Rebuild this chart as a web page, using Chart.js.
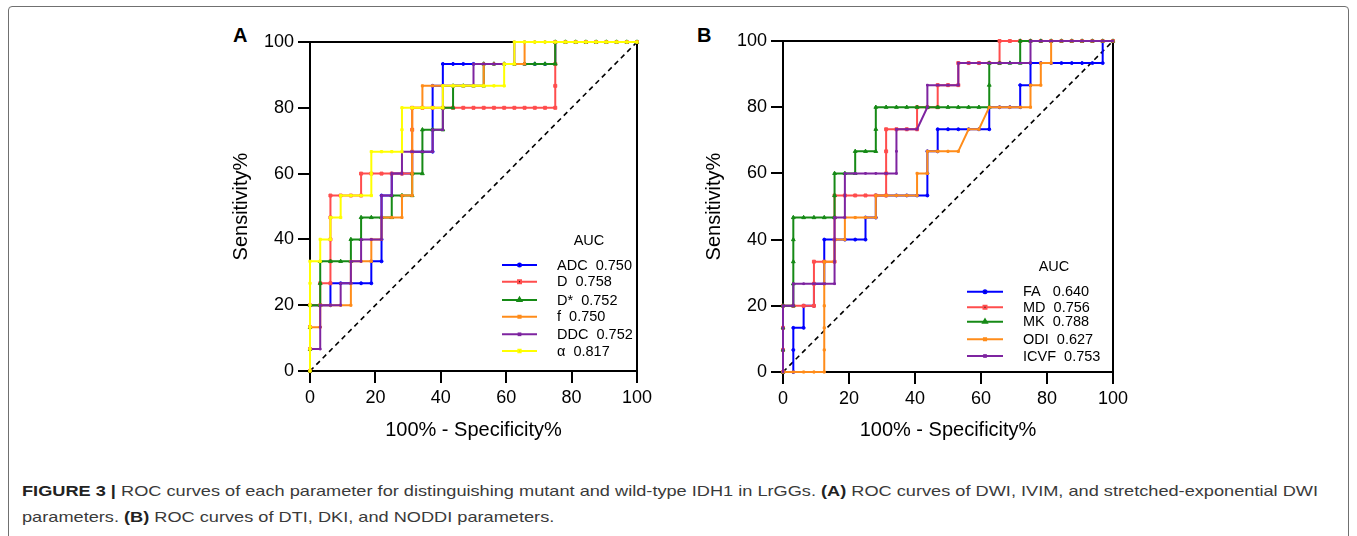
<!DOCTYPE html>
<html>
<head>
<meta charset="utf-8">
<script src="https://cdn.jsdelivr.net/npm/chart.js@4.4.1/dist/chart.umd.min.js"></script>
<style>
  html, body { margin: 0; padding: 0; background: #fff; }
  body { width: 1357px; height: 536px; position: relative; overflow: hidden; font-family: "Liberation Sans", Arial, sans-serif; }
  .frame { position: absolute; left: 8px; top: 6px; width: 1341px; height: 545px; border: 1px solid #707070; border-radius: 4px; box-sizing: border-box; }
  canvas { position: absolute; top: 0; }
  #chartA { left: 200px; }
  #chartB { left: 673px; }
  .panel { position: absolute; top: 24px; font-weight: bold; font-size: 20px; color: #000; }
  .caption { position: absolute; left: 22px; font-family: "Liberation Sans Narrow", "Arial Narrow", "Liberation Sans", sans-serif;
             font-size: 15px; line-height: 17px; color: #3a3a3a; white-space: nowrap; transform-origin: 0 0; }
  .caption b { color: #222; }
</style>
</head>
<body>
<div class="frame"></div>
<div class="panel" style="left:233px">A</div>
<div class="panel" style="left:697px">B</div>
<canvas id="chartA" width="460" height="460"></canvas>
<canvas id="chartB" width="460" height="460"></canvas>
<div class="caption" id="cap1" style="top:482px"><b>FIGURE 3 |</b> ROC curves of each parameter for distinguishing mutant and wild-type IDH1 in LrGGs. <b>(A)</b> ROC curves of DWI, IVIM, and stretched-exponential DWI</div>
<div class="caption" id="cap2" style="top:508px">parameters. <b>(B)</b> ROC curves of DTI, DKI, and NODDI parameters.</div>

<script>
// ROC points as [false positives, true positives] counts (32 wild-type, 15 mutant)
const nNeg = 32;
const nPos = 15;
const tickVals = [0, 20, 40, 60, 80, 100];

// ---- panel A : DWI / IVIM / stretched-exponential ----
const namesA = ["ADC", "D", "D*", "f", "DDC", "α"];
const aucA   = ["0.750", "0.758", "0.752", "0.750", "0.752", "0.817"];
const gapsA  = ["  ", "  ", "  ", "  ", "  ", "  "];

const adcPts = [[0,0],[0,1],[0,2],[0,3],[1,3],[2,3],[2,4],[3,4],[4,4],[5,4],[6,4],[6,5],[7,5],[7,6],[7,7],[7,8],
  [8,8],[8,9],[9,9],[10,9],[10,10],[11,10],[12,10],[12,11],[12,12],[12,13],[13,13],[13,14],[14,14],[15,14],[16,14],
  [17,14],[18,14],[19,14],[20,14],[21,14],[22,14],[23,14],[24,14],[24,15],[25,15],[26,15],[27,15],[28,15],[29,15],
  [30,15],[31,15],[32,15]];
const dPts = [[0,0],[0,1],[0,2],[0,3],[1,3],[1,4],[2,4],[2,5],[2,6],[2,7],[2,8],[3,8],[4,8],[5,8],[5,9],[6,9],[7,9],
  [8,9],[9,9],[10,9],[10,10],[10,11],[10,12],[11,12],[12,12],[13,12],[14,12],[15,12],[16,12],[17,12],[18,12],[19,12],
  [20,12],[21,12],[22,12],[23,12],[24,12],[24,13],[24,14],[24,15],[25,15],[26,15],[27,15],[28,15],[29,15],[30,15],
  [31,15],[32,15]];
const dStarPts = [[0,0],[0,1],[0,2],[0,3],[1,3],[1,4],[1,5],[2,5],[3,5],[4,5],[4,6],[5,6],[5,7],[6,7],[7,7],[8,7],
  [8,8],[9,8],[10,8],[10,9],[11,9],[11,10],[11,11],[12,11],[13,11],[13,12],[14,12],[14,13],[15,13],[16,13],[17,13],
  [17,14],[18,14],[19,14],[20,14],[21,14],[22,14],[23,14],[24,14],[24,15],[25,15],[26,15],[27,15],[28,15],[29,15],
  [30,15],[31,15],[32,15]];
const fPts = [[0,0],[0,1],[0,2],[1,2],[1,3],[2,3],[3,3],[4,3],[4,4],[4,5],[5,5],[6,5],[6,6],[7,6],[7,7],[8,7],[9,7],
  [9,8],[10,8],[10,9],[10,10],[10,11],[10,12],[11,12],[11,13],[12,13],[13,13],[14,13],[15,13],[16,13],[17,13],[17,14],
  [18,14],[19,14],[20,14],[21,14],[21,15],[22,15],[23,15],[24,15],[25,15],[26,15],[27,15],[28,15],[29,15],[30,15],
  [31,15],[32,15]];
const ddcPts = [[0,0],[0,1],[1,1],[1,2],[1,3],[2,3],[3,3],[3,4],[4,4],[4,5],[5,5],[5,6],[6,6],[7,6],[7,7],[7,8],
  [8,8],[8,9],[9,9],[9,10],[10,10],[11,10],[12,10],[12,11],[13,11],[13,12],[13,13],[14,13],[15,13],[16,13],[16,14],
  [17,14],[18,14],[19,14],[20,14],[20,15],[21,15],[22,15],[23,15],[24,15],[25,15],[26,15],[27,15],[28,15],[29,15],
  [30,15],[31,15],[32,15]];
const alphaPts = [[0,0],[0,1],[0,2],[0,3],[0,4],[0,5],[1,5],[1,6],[2,6],[2,7],[3,7],[3,8],[4,8],[5,8],[6,8],[6,9],
  [6,10],[7,10],[8,10],[9,10],[9,11],[9,12],[10,12],[11,12],[12,12],[13,12],[13,13],[14,13],[15,13],[16,13],[17,13],
  [18,13],[19,13],[19,14],[20,14],[20,15],[21,15],[22,15],[23,15],[24,15],[25,15],[26,15],[27,15],[28,15],[29,15],
  [30,15],[31,15],[32,15]];

// ---- panel B : DTI / DKI / NODDI ----
const namesB = ["FA", "MD", "MK", "ODI", "ICVF"];
const aucB   = ["0.640", "0.756", "0.788", "0.627", "0.753"];
const gapsB  = ["   ", "  ", "  ", "  ", "  "];

const faPts = [[0,0],[1,0],[1,1],[1,2],[2,2],[2,3],[3,3],[3,4],[4,4],[4,5],[4,6],[5,6],[6,6],[7,6],[8,6],[8,7],
  [9,7],[9,8],[10,8],[11,8],[12,8],[13,8],[14,8],[14,9],[14,10],[15,10],[15,11],[16,11],[17,11],[18,11],[19,11],
  [20,11],[20,12],[21,12],[22,12],[23,12],[23,13],[24,13],[24,14],[25,14],[26,14],[27,14],[28,14],[29,14],[30,14],
  [31,14],[31,15],[32,15]];
const mdPts = [[0,0],[0,1],[0,2],[0,3],[1,3],[2,3],[3,3],[3,4],[3,5],[4,5],[5,5],[5,6],[5,7],[5,8],[6,8],[7,8],
  [8,8],[9,8],[10,8],[10,9],[10,10],[10,11],[11,11],[12,11],[13,11],[13,12],[14,12],[15,12],[15,13],[16,13],[17,13],
  [17,14],[18,14],[19,14],[20,14],[21,14],[21,15],[22,15],[23,15],[24,15],[25,15],[26,15],[27,15],[28,15],[29,15],
  [30,15],[31,15],[32,15]];
const mkPts = [[0,0],[0,1],[0,2],[0,3],[1,3],[1,4],[1,5],[1,6],[1,7],[2,7],[3,7],[4,7],[5,7],[5,8],[5,9],[6,9],
  [7,9],[7,10],[8,10],[9,10],[9,11],[9,12],[10,12],[11,12],[12,12],[13,12],[14,12],[15,12],[16,12],[17,12],[18,12],
  [19,12],[20,12],[20,13],[20,14],[21,14],[22,14],[23,14],[23,15],[24,15],[25,15],[26,15],[27,15],[28,15],[29,15],
  [30,15],[31,15],[32,15]];
const odiPts = [[0,0],[1,0],[2,0],[3,0],[4,0],[4,1],[4,2],[4,3],[4,4],[4,5],[5,5],[5,6],[6,6],[6,7],[7,7],[8,7],
  [9,7],[9,8],[10,8],[11,8],[12,8],[13,8],[13,9],[14,9],[14,10],[15,10],[16,10],[17,10],[18,11],[19,11],[20,12],
  [21,12],[22,12],[23,12],[24,12],[24,13],[25,13],[25,14],[26,14],[26,15],[27,15],[28,15],[29,15],[30,15],[31,15],
  [32,15]];
const icvfPts = [[0,0],[0,1],[0,2],[0,3],[1,3],[1,4],[2,4],[3,4],[4,4],[5,4],[5,5],[5,6],[5,7],[6,7],[6,8],[6,9],
  [7,9],[8,9],[9,9],[10,9],[11,9],[11,10],[11,11],[12,11],[13,11],[14,12],[14,13],[15,13],[16,13],[17,13],[17,14],
  [18,14],[19,14],[20,14],[21,14],[22,14],[23,14],[24,14],[24,15],[25,15],[26,15],[27,15],[28,15],[29,15],[30,15],
  [31,15],[32,15]];

const FONT = '"Liberation Sans", Arial, sans-serif';
const colors = { blue: "#0000ff", red: "#ff4d4d", green: "#168a16", orange: "#ff8c1a", purple: "#7e24a0", yellow: "#ffff00" };

//-----------------------------------------------------------------------------
// series definitions (last one drawn on top, like the original)
//-----------------------------------------------------------------------------
const seriesA = [
  { pts: adcPts,   color: colors.blue,   style: "circle",   r: 1.5 },
  { pts: dPts,     color: colors.red,    style: "rect",     r: 2.1 },
  { pts: dStarPts, color: colors.green,  style: "triangle", r: 2.2 },
  { pts: fPts,     color: colors.orange, style: "rect",     r: 1.5 },
  { pts: ddcPts,   color: colors.purple, style: "rect",     r: 1.2 },
  { pts: alphaPts, color: colors.yellow, style: "rect",     r: 1.6 }
];
const seriesB = [
  { pts: faPts,   color: colors.blue,   style: "circle",   r: 1.5 },
  { pts: mdPts,   color: colors.red,    style: "rect",     r: 2.1 },
  { pts: mkPts,   color: colors.green,  style: "triangle", r: 2.2 },
  { pts: odiPts,  color: colors.orange, style: "rect",     r: 1.5 },
  { pts: icvfPts, color: colors.purple, style: "rect",     r: 1.2 }
];

function toPercent(pts){
  return pts.map(p => ({ x: p[0] * 100 / nNeg, y: p[1] * 100 / nPos }));
}

// top and right edges of the plot box
const boxPlugin = {
  id: "boxPlugin",
  beforeDatasetsDraw(chart){
    const { ctx, chartArea: a } = chart;
    ctx.save();
    ctx.strokeStyle = "#000";
    ctx.lineWidth = 2;
    ctx.beginPath();
    ctx.moveTo(a.left - 1, a.top);
    ctx.lineTo(a.right, a.top);
    ctx.lineTo(a.right, a.bottom + 1);
    ctx.stroke();
    ctx.restore();
  }
};

// the little "AUC" legend inside the plot
const aucLegend = {
  id: "aucLegend",
  afterDatasetsDraw(chart, args, o){
    const { ctx, chartArea: a } = chart;
    ctx.save();
    ctx.font = `14.5px ${FONT}`;
    ctx.fillStyle = "#000";
    ctx.textBaseline = "middle";
    ctx.textAlign = "center";
    ctx.fillText("AUC", a.left + o.titleX, a.top + o.titleY);
    ctx.textAlign = "left";
    o.series.forEach((s, i) => {
      const y = a.top + o.rows[i];
      const x0 = a.left + o.lineX[0], x1 = a.left + o.lineX[1];
      ctx.strokeStyle = s.color;
      ctx.lineWidth = 2;
      ctx.beginPath();
      ctx.moveTo(x0, y);
      ctx.lineTo(x1, y);
      ctx.stroke();
      Chart.helpers.drawPoint(ctx, { pointStyle: s.style, radius: s.r, borderWidth: 1 }, (x0 + x1) / 2, y);
      ctx.fillStyle = "#000";
      ctx.fillText(o.names[i] + o.gaps[i] + o.aucs[i], a.left + o.textX, y + 0.5);
    });
    ctx.restore();
  }
};

function drawChart(canvasId, series, legend, area){
  const datasets = series.map((s, i) => ({
    data: toPercent(s.pts),
    borderColor: s.color,
    backgroundColor: s.color,
    borderWidth: 2,
    pointStyle: s.style,
    pointRadius: s.r,
    pointBorderWidth: 1,
    pointBackgroundColor: s.color,
    pointBorderColor: s.color,
    showLine: true,
    tension: 0,
    clip: false,
    order: series.length - i
  }));
  // chance line
  datasets.push({
    data: [{ x: 0, y: 0 }, { x: 100, y: 100 }],
    borderColor: "#000",
    borderWidth: 1.6,
    borderDash: [5, 4],
    pointRadius: 0,
    showLine: true,
    order: 50
  });

  const axisCommon = {
    type: "linear",
    min: 0,
    max: 100,
    afterBuildTicks: sc => { sc.ticks = tickVals.map(v => ({ value: v })); },
    grid: { drawOnChartArea: false, drawTicks: true, tickLength: 12, color: "#000", lineWidth: 2 },
    border: { display: true, color: "#000", width: 2 },
    ticks: { color: "#000", font: { size: 18, family: FONT }, padding: 4, maxRotation: 0, autoSkip: false }
  };

  return new Chart(document.getElementById(canvasId), {
    type: "scatter",
    data: { datasets },
    options: {
      responsive: false,
      animation: false,
      events: [],
      layout: { padding: { top: area.top, right: area.right, left: 0, bottom: 0 } },
      plugins: {
        legend: { display: false },
        tooltip: { enabled: false },
        aucLegend: Object.assign({ series }, legend)
      },
      scales: {
        x: Object.assign({}, axisCommon, {
          afterFit: sc => { sc.height = area.xh; },
          title: { display: true, text: "100% - Specificity%", color: "#000",
                   font: { size: 20, family: FONT }, padding: { top: 0, bottom: 18 } }
        }),
        y: Object.assign({}, axisCommon, {
          afterFit: sc => { sc.width = 110; },
          title: { display: true, text: "Sensitivity%", color: "#000",
                   font: { size: 20, family: FONT }, padding: { top: 29, bottom: 0 } }
        })
      }
    },
    plugins: [boxPlugin, aucLegend]
  });
}

drawChart("chartA", seriesA, {
  names: namesA, aucs: aucA, gaps: gapsA,
  titleX: 279, titleY: 199, lineX: [192, 227], textX: 247,
  rows: [223, 239.7, 258, 274.7, 292.3, 309]
}, { top: 42, right: 23, xh: 89 });

drawChart("chartB", seriesB, {
  names: namesB, aucs: aucB, gaps: gapsB,
  titleX: 271, titleY: 226, lineX: [184, 220], textX: 240,
  rows: [250.7, 266.3, 280.7, 298.3, 315]
}, { top: 41, right: 20, xh: 88 });

// stretch the caption so the first line spans the figure width
const cap1 = document.getElementById("cap1");
const cap2 = document.getElementById("cap2");
const k = 1296 / cap1.getBoundingClientRect().width;
cap1.style.transform = `scaleX(${k})`;
cap2.style.transform = `scaleX(${k})`;
</script>
</body>
</html>
